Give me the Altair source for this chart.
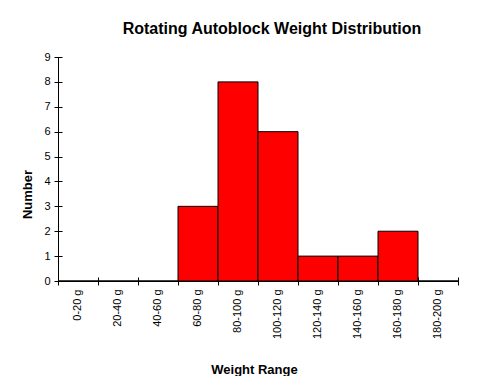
import altair as alt
import pandas as pd

categories = ["0-20 g", "20-40 g", "40-60 g", "60-80 g", "80-100 g",
              "100-120 g", "120-140 g", "140-160 g", "160-180 g", "180-200 g"]
counts = [0, 0, 0, 3, 8, 6, 1, 1, 2, 0]
y_ticks = [0, 1, 2, 3, 4, 5, 6, 7, 8, 9]

df = pd.DataFrame({"range": categories, "count": counts})

FONT = "Liberation Sans"
xscale = alt.Scale(paddingInner=0, paddingOuter=0)
yscale = alt.Scale(domain=[0, 9], nice=False)

base = alt.Chart(df)

bars = base.mark_bar(color="#ff0000", stroke="#000000", strokeWidth=1).encode(
    x=alt.X("range:N", sort=categories, scale=xscale,
            axis=alt.Axis(orient="bottom", title="Weight Range", labelAngle=-90,
                          ticks=False, tickSize=0, labelPadding=8, domainColor="#000000",
                          labelFont=FONT, labelFontSize=11, labelColor="#000000",
                          titleFont=FONT, titleFontSize=13, titleFontWeight="bold",
                          titleColor="#000000", titleX=196, titleY=92,
                          titleBaseline="alphabetic", grid=False)),
    y=alt.Y("count:Q", scale=yscale,
            axis=alt.Axis(orient="left", title="Number", values=y_ticks,
                          ticks=False, tickSize=0, labelPadding=8, domainColor="#000000",
                          labelFont=FONT, labelFontSize=11, labelColor="#000000",
                          titleFont=FONT, titleFontSize=13, titleFontWeight="bold",
                          titleColor="#000000", titleX=-27, titleY=137,
                          titleAlign="center", titleBaseline="alphabetic",
                          grid=False)),
)

tick_layer = base.mark_bar(opacity=0).encode(
    x=alt.X("range:N", sort=categories, scale=xscale,
            axis=alt.Axis(orient="bottom", title=None, labels=False, domain=False,
                          ticks=True, tickSize=8, offset=-4, tickBand="extent",
                          tickColor="#000000", grid=False)),
    y=alt.Y("count:Q", scale=yscale,
            axis=alt.Axis(orient="left", title=None, labels=False, domain=False,
                          values=y_ticks, ticks=True, tickSize=8, offset=-4,
                          tickColor="#000000", grid=False)),
)

chart = alt.layer(bars, tick_layer).resolve_axis(
    x="independent", y="independent"
).properties(
    width=400,
    height=224,
    padding={"left": 50, "top": 49, "right": 14, "bottom": 95},
    autosize=alt.AutoSizeParams(type="none"),
    title=alt.TitleParams(
        "Rotating Autoblock Weight Distribution",
        font=FONT, fontSize=16, fontWeight="bold", color="#000000",
        anchor="middle", frame="group", dx=14, offset=1, baseline="alphabetic",
    ),
).configure_view(strokeWidth=0)

chart.save("out.html", embed_options={"renderer": "svg", "actions": False})
